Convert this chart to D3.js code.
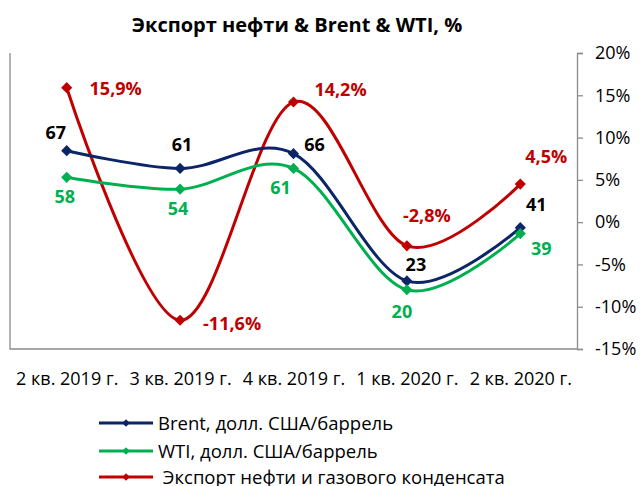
<!DOCTYPE html>
<html>
<head>
<meta charset="utf-8">
<title>Экспорт нефти & Brent & WTI</title>
<script src="https://d3js.org/d3.v7.min.js"></script>
<style>
  body { margin: 0; background: #fff; }
  svg text { font-family: "Open Sans", "DejaVu Sans", sans-serif; }
</style>
</head>
<body>
<svg width="641" height="486"></svg>
<script>
// data
var quarters = ["2 кв. 2019 г.", "3 кв. 2019 г.", "4 кв. 2019 г.", "1 кв. 2020 г.", "2 кв. 2020 г."];
var brent = [67, 61, 66, 23, 41];
var wti = [58, 54, 61, 20, 39];
var exportOil = [15.9, -11.6, 14.2, -2.8, 4.5];
var pctTicks = [-15, -10, -5, 0, 5, 10, 15, 20];
var seriesNames = ["Brent, долл. США/баррель", "WTI, долл. США/баррель", " Экспорт нефти и газового конденсата"];

var svg = d3.select("svg");
var top_ = 53, bottom = 349, left = 10, right = 577;
var axisGray = "#8c8c8c";

var x = d3.scalePoint().domain(quarters).range([left, right]).padding(0.5);
var yL = d3.scaleLinear().domain([0, 100]).range([bottom, top_]);   // hidden price axis
var yR = d3.scaleLinear().domain([-15, 20]).range([bottom, top_]);  // percent axis

// title
svg.append("text")
    .attr("x", 297).attr("y", 32)
    .attr("text-anchor", "middle")
    .style("font-weight", "bold").style("font-size", "20px")
    .text("Экспорт нефти & Brent & WTI, %");

// frame: left and bottom lines
svg.append("path")
    .attr("d", "M" + left + "," + top_ + "V" + bottom + "H" + right)
    .attr("fill", "none").attr("stroke", axisGray).attr("stroke-width", 1.3);

// right percent axis
var gR = svg.append("g")
    .attr("transform", "translate(" + right + ",0)")
    .call(d3.axisRight(yR).tickValues(pctTicks).tickSize(6).tickPadding(12)
      .tickFormat(function(d) { return d + "%"; }));
gR.selectAll("path, line").attr("stroke", axisGray).attr("stroke-width", 1.3);
gR.selectAll("text").style("font-size", "18px").attr("fill", "#000").style("font-family", "\"Open Sans\", sans-serif");

// category labels
var gX = svg.append("g")
    .attr("transform", "translate(0," + bottom + ")")
    .call(d3.axisBottom(x).tickSize(0).tickPadding(23));
gX.select(".domain").remove();
gX.selectAll("text").style("font-size", "18px").attr("fill", "#000").style("font-family", "\"Open Sans\", sans-serif");

var series = [
  { name: seriesNames[0], values: brent, y: yL, color: "#0b2566", labelColor: "#000",
    fmt: function(v) { return v; },
    off: [[-11, -12], [2, -17], [21, -3], [9, -10], [16, -17]] },
  { name: seriesNames[1], values: wti, y: yL, color: "#00b050", labelColor: "#00b050",
    fmt: function(v) { return v; },
    off: [[-2, 26], [-2, 26], [-13, 26], [-5, 28], [21, 21]] },
  { name: seriesNames[2], values: exportOil, y: yR, color: "#c00000", labelColor: "#c00000",
    fmt: function(v) { return v.toFixed(1).replace(".", ",") + "%"; },
    off: [[49, 7], [52, 10], [47, -6], [20, -24], [26, -21]] }
];

var line = d3.line().curve(d3.curveCardinal.tension(0));
var diamond = d3.symbol().type(d3.symbolSquare).size(62);

// red first, then brent, wti on top
[series[2], series[0], series[1]].forEach(function(s) {
  var pts = s.values.map(function(v, i) { return [x(quarters[i]), s.y(v)]; });
  svg.append("path")
      .attr("d", line(pts))
      .attr("fill", "none").attr("stroke", s.color).attr("stroke-width", 3);
  svg.append("g").selectAll("path")
    .data(pts).enter().append("path")
      .attr("d", diamond)
      .attr("transform", function(p) { return "translate(" + p[0] + "," + p[1] + ") rotate(45)"; })
      .attr("fill", s.color);
});

series.forEach(function(s) {
  svg.append("g").selectAll("text")
    .data(s.values).enter().append("text")
      .attr("x", function(v, i) { return x(quarters[i]) + s.off[i][0]; })
      .attr("y", function(v, i) { return s.y(v) + s.off[i][1]; })
      .attr("text-anchor", "middle")
      .style("font-weight", "bold").style("font-size", "18px")
      .attr("fill", s.labelColor)
      .text(s.fmt);
});

// legend
var legendRows = [423, 451, 477];
var leg = svg.append("g").selectAll("g")
  .data(series).enter().append("g")
    .attr("transform", function(d, i) { return "translate(99," + legendRows[i] + ")"; });
leg.append("line")
    .attr("x1", 0).attr("x2", 54)
    .attr("stroke", function(d) { return d.color; }).attr("stroke-width", 3);
leg.append("path")
    .attr("d", d3.symbol().type(d3.symbolSquare).size(30))
    .attr("transform", "translate(27,0) rotate(45)")
    .attr("fill", function(d) { return d.color; });
leg.append("text")
    .attr("x", 59).attr("y", 7)
    .style("font-size", "18.5px").style("white-space", "pre")
    .text(function(d) { return d.name; });
</script>
</body>
</html>
